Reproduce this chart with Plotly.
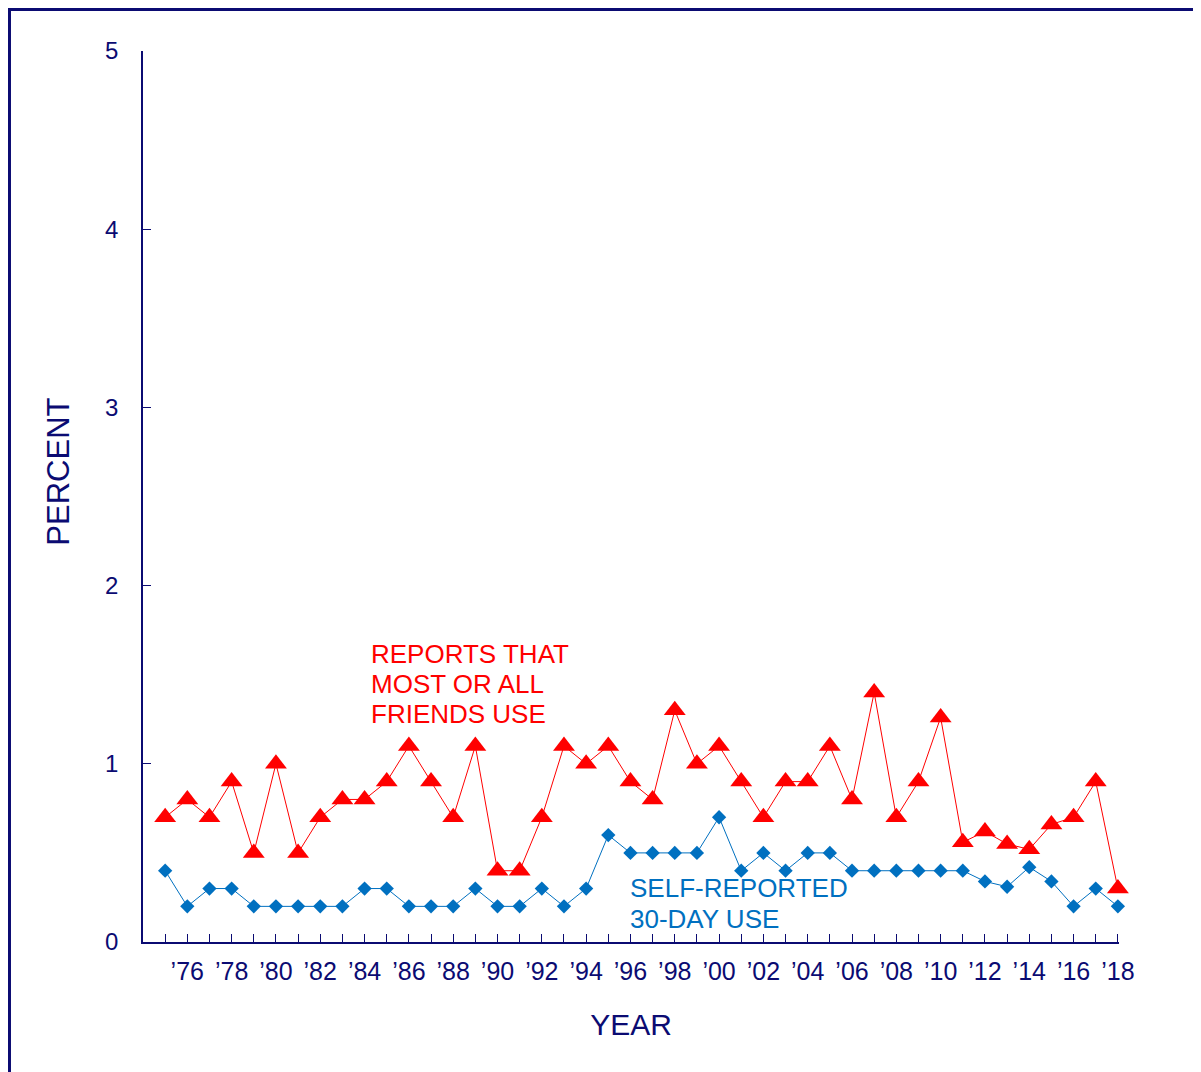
import plotly.graph_objects as go

years = list(range(1975, 2019))
friends_use = [0.7, 0.8, 0.7, 0.9, 0.5, 1.0, 0.5, 0.7, 0.8, 0.8,
               0.9, 1.1, 0.9, 0.7, 1.1, 0.4, 0.4, 0.7, 1.1, 1.0,
               1.1, 0.9, 0.8, 1.3, 1.0, 1.1, 0.9, 0.7, 0.9, 0.9,
               1.1, 0.8, 1.4, 0.7, 0.9, 1.26, 0.56, 0.62, 0.55, 0.52,
               0.66, 0.70, 0.9, 0.3]
self_use = [0.4, 0.2, 0.3, 0.3, 0.2, 0.2, 0.2, 0.2, 0.2, 0.3,
            0.3, 0.2, 0.2, 0.2, 0.3, 0.2, 0.2, 0.3, 0.2, 0.3,
            0.6, 0.5, 0.5, 0.5, 0.5, 0.7, 0.4, 0.5, 0.4, 0.5,
            0.5, 0.4, 0.4, 0.4, 0.4, 0.4, 0.4, 0.34, 0.31, 0.42,
            0.34, 0.2, 0.3, 0.2]
x_ticktext = ["\u2019%02d" % (y % 100) if y % 2 == 0 else "" for y in years]
y_ticks = [0, 1, 2, 3, 4, 5]

friends_label = ["REPORTS THAT", "MOST OR ALL", "FRIENDS USE"]
self_label = ["SELF-REPORTED", "30-DAY USE"]

NAVY = "#0b0b72"
RED = "#ff0000"
BLUE = "#0070c0"
FONT = "Arial, Liberation Sans, sans-serif"

fig = go.Figure()

fig.add_trace(go.Scatter(
    x=years, y=friends_use, mode="lines+markers",
    line=dict(color=RED, width=1),
    marker=dict(symbol="triangle-up", size=19, color=RED),
    name="Friends use", showlegend=False, cliponaxis=False,
))
fig.add_trace(go.Scatter(
    x=years, y=self_use, mode="lines+markers",
    line=dict(color=BLUE, width=1),
    marker=dict(symbol="diamond", size=11, color=BLUE),
    name="Self-reported", showlegend=False, cliponaxis=False,
))

# series labels, one annotation per line to get the tight line spacing
for i, line in enumerate(friends_label):
    fig.add_annotation(
        x=1984.2, y=1.616 - i * 0.169, xref="x", yref="y",
        xanchor="left", yanchor="middle", text=line, showarrow=False,
        font=dict(family=FONT, size=26, color=RED),
    )
for i, line in enumerate(self_label):
    fig.add_annotation(
        x=1995.9, y=0.303 - i * 0.174, xref="x", yref="y",
        xanchor="left", yanchor="middle", text=line, showarrow=False,
        font=dict(family=FONT, size=26, color=BLUE),
    )

# y title placed a bit above centre, like the original
fig.add_annotation(
    x=-0.087, y=0.528, xref="paper", yref="paper", textangle=-90,
    xanchor="center", yanchor="middle", text="PERCENT", showarrow=False,
    font=dict(family=FONT, size=31, color=NAVY),
)

# outer frame
fig.add_shape(
    type="rect", xref="paper", yref="paper",
    x0=-0.1368, x1=1.2, y0=-0.2, y1=1.0466,
    line=dict(color=NAVY, width=3), fillcolor="rgba(0,0,0,0)", layer="below",
)

fig.update_layout(
    width=1193, height=1064, autosize=False,
    margin=dict(l=135, r=82, t=43, b=130),
    plot_bgcolor="white", paper_bgcolor="white",
    font=dict(family=FONT, color=NAVY),
)
fig.update_xaxes(
    range=[1974, 2018.05], tickvals=years, ticktext=x_ticktext,
    ticks="inside", ticklen=8, tickcolor=NAVY, tickwidth=1,
    showline=True, linecolor=NAVY, linewidth=1.5, showgrid=False, zeroline=False,
    tickfont=dict(size=25, color=NAVY), ticklabelstandoff=6,
    title=dict(text="YEAR", font=dict(size=30, color=NAVY), standoff=30),
)
fig.update_yaxes(
    range=[0, 5], tickvals=y_ticks,
    ticks="inside", ticklen=8, tickcolor=NAVY, tickwidth=1,
    showline=True, linecolor=NAVY, linewidth=1.5, showgrid=False, zeroline=False,
    tickfont=dict(size=24, color=NAVY), ticklabelstandoff=18,
)

fig.write_html("out.html")
